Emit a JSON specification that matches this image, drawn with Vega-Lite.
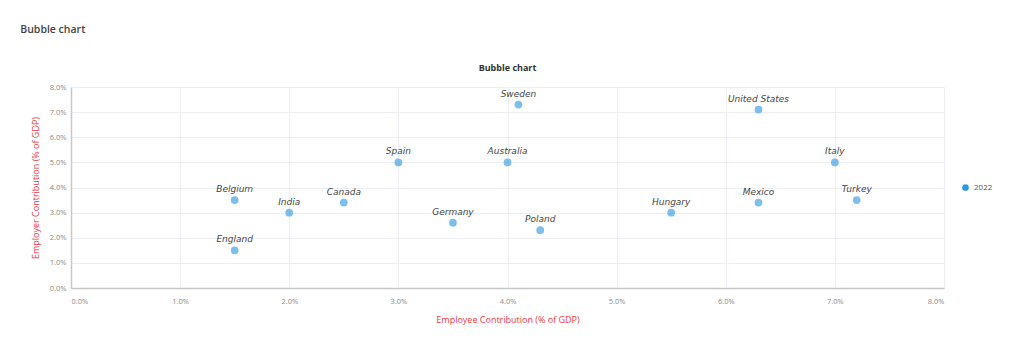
{
  "$schema": "https://vega.github.io/schema/vega-lite/v6.json",
  "background": "#ffffff",
  "padding": {"left": 20, "top": 24, "right": 0, "bottom": 0},
  "title": {"text": "Bubble chart", "anchor": "start", "frame": "bounds", "fontSize": 10.5, "fontWeight": 600, "color": "#444444", "font": "Open Sans", "dx": -11, "offset": 29},
  "vconcat": [
    {
      "width": 873,
      "height": 201,
      "title": {"text": "Bubble chart", "anchor": "middle", "frame": "group", "fontSize": 9, "fontWeight": "bold", "color": "#333333", "font": "Open Sans", "offset": 10},
      "data": {
        "values": [
          {"country": "Sweden", "employee": 4.1, "employer": 7.3, "year": "2022"},
          {"country": "United States", "employee": 6.3, "employer": 7.1, "year": "2022"},
          {"country": "Spain", "employee": 3.0, "employer": 5.0, "year": "2022"},
          {"country": "Australia", "employee": 4.0, "employer": 5.0, "year": "2022"},
          {"country": "Italy", "employee": 7.0, "employer": 5.0, "year": "2022"},
          {"country": "Belgium", "employee": 1.5, "employer": 3.5, "year": "2022"},
          {"country": "India", "employee": 2.0, "employer": 3.0, "year": "2022"},
          {"country": "Canada", "employee": 2.5, "employer": 3.4, "year": "2022"},
          {"country": "Germany", "employee": 3.5, "employer": 2.6, "year": "2022"},
          {"country": "Poland", "employee": 4.3, "employer": 2.3, "year": "2022"},
          {"country": "Hungary", "employee": 5.5, "employer": 3.0, "year": "2022"},
          {"country": "Mexico", "employee": 6.3, "employer": 3.4, "year": "2022"},
          {"country": "Turkey", "employee": 7.2, "employer": 3.5, "year": "2022"},
          {"country": "England", "employee": 1.5, "employer": 1.5, "year": "2022"}
        ]
      },
      "encoding": {
        "x": {
          "field": "employee", "type": "quantitative",
          "scale": {"domain": [0, 8], "nice": false, "zero": true},
          "axis": {"title": "Employee Contribution (% of GDP)", "values": [0, 1, 2, 3, 4, 5, 6, 7, 8], "labelExpr": "format(datum.value, '.1f') + '%'", "labelPadding": 9, "titlePadding": 11}
        },
        "y": {
          "field": "employer", "type": "quantitative",
          "scale": {"domain": [0, 8], "nice": false, "zero": true},
          "axis": {"title": "Employer Contribution (% of GDP)", "values": [0, 1, 2, 3, 4, 5, 6, 7, 8], "labelExpr": "format(datum.value, '.1f') + '%'", "labelPadding": 5, "titlePadding": 9}
        }
      },
      "layer": [
        {
          "mark": {"type": "point", "filled": true, "size": 60, "opacity": 0.62, "shape": "circle"},
          "encoding": {
            "color": {
              "field": "year", "type": "nominal",
              "scale": {"range": ["#2b98e0"]},
              "legend": {"title": null, "orient": "none", "legendX": 890, "legendY": 96, "symbolType": "circle", "symbolSize": 45, "symbolOpacity": 1, "labelFontSize": 8, "labelColor": "#555555", "labelFont": "Open Sans"}
            }
          }
        },
        {
          "mark": {"type": "text", "dy": -11, "fontStyle": "italic", "fontSize": 9, "color": "#444444", "font": "DejaVu Sans"},
          "encoding": {"text": {"field": "country", "type": "nominal"}}
        }
      ]
    }
  ],
  "config": {
    "view": {"stroke": null},
    "axis": {
      "grid": true, "gridColor": "#eceef3", "gridWidth": 1,
      "domainColor": "#c8c8c8", "domainWidth": 1.5,
      "ticks": false,
      "labelFontSize": 7.5, "labelColor": "#888888", "labelFont": "Open Sans",
      "titleColor": "#e23a3e", "titleFontSize": 9, "titleFontWeight": "normal", "titleFont": "Open Sans"
    }
  }
}
